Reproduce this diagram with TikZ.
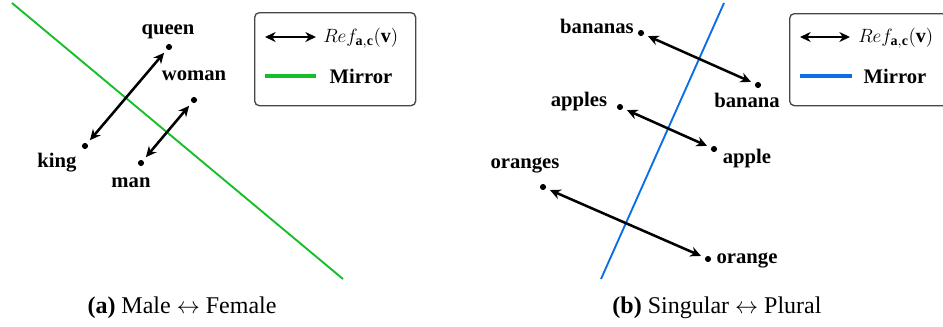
\documentclass[tikz,border=0pt]{standalone}
\usepackage{fontspec}
\setmainfont{Liberation Serif}
\usetikzlibrary{arrows.meta}
\definecolor{mirrorgreen}{RGB}{20,190,40}
\definecolor{mirrorblue}{RGB}{10,110,230}
\definecolor{legendgray}{RGB}{70,70,70}
\begin{document}
\begin{tikzpicture}[x=0.75pt,y=-0.75pt,
  dot/.style={circle,fill=black,inner sep=0pt,minimum size=4.6pt},
  word/.style={font=\fontsize{15.5}{18}\selectfont\bfseries,inner sep=0pt,anchor=base},
  refl/.style={line width=1.9pt,{Stealth[length=8pt,width=7.5pt]}-{Stealth[length=8pt,width=7.5pt]},shorten <=3.2pt,shorten >=3.2pt},
  mirrorline/.style={line width=1.4pt},
  legbox/.style={draw=legendgray,line width=1pt,rounded corners=3.5pt,fill=white,anchor=north west,inner sep=0pt},
  legline/.style={line width=2.6pt},
  legarrow/.style={line width=1.9pt,{Stealth[length=8pt,width=7.5pt]}-{Stealth[length=8pt,width=7.5pt]}},
  mathlbl/.style={font=\fontsize{15}{18}\selectfont,inner sep=0pt,anchor=west},
  subcap/.style={font=\fontsize{18}{21}\selectfont,inner sep=0pt,anchor=base}
]
\clip (0,0) rectangle (943,326);

% ---------- panel (a) ----------
\coordinate (ga) at (12,3);
\coordinate (gb) at (343,279);
\draw[mirrorline,mirrorgreen] (ga) -- (gb);

\node[dot] (queen) at (169,47) {};
\node[dot] (woman) at (194,100) {};
\node[dot] (king) at (85,146) {};
\node[dot] (man) at (141,163) {};
\node[word] (lqueen) at (168,34) {queen};
\node[word] (lwoman) at (194,80) {woman};
\node[word] (lking) at (57,167) {king};
\node[word] (lman) at (131,187) {man};
\draw[refl] (king) -- (queen);
\draw[refl] (man) -- (woman);

\node[legbox,minimum width=120.75pt,minimum height=69.75pt] (lega) at (254,12) {};
\coordinate (la1) at (265,37);
\coordinate (la2) at (316,37);
\draw[legarrow] (la1) -- (la2);
\node[mathlbl] (lrefa) at (323,38) {$Ref_{\mathbf{a,c}}(\mathbf{v})$};
\coordinate (lg1) at (265,76);
\coordinate (lg2) at (316,76);
\draw[legline,mirrorgreen] (lg1) -- (lg2);
\node[word] (lmira) at (361,83) {Mirror};

\node[subcap] (capa) at (182,313) {\textbf{(a)} Male $\leftrightarrow$ Female};

% ---------- panel (b) ----------
\coordinate (ba) at (724,3);
\coordinate (bb) at (601,279);
\draw[mirrorline,mirrorblue] (ba) -- (bb);

\node[dot] (bananas) at (641,33) {};
\node[dot] (banana) at (758,85) {};
\node[dot] (apples) at (620,107) {};
\node[dot] (apple) at (714,149) {};
\node[dot] (oranges) at (543,187) {};
\node[dot] (orange) at (708,259) {};
\node[word] (lbananas) at (597,33) {bananas};
\node[word] (lbanana) at (747,107) {banana};
\node[word] (lapples) at (579,106) {apples};
\node[word] (lapple) at (747,163) {apple};
\node[word] (loranges) at (525,168) {oranges};
\node[word] (lorange) at (747,263) {orange};
\draw[refl] (bananas) -- (banana);
\draw[refl] (apples) -- (apple);
\draw[refl] (oranges) -- (orange);

\node[legbox,minimum width=130pt,minimum height=69pt] (legb) at (789,13) {};
\coordinate (lb1) at (800,37);
\coordinate (lb2) at (850,37);
\draw[legarrow] (lb1) -- (lb2);
\node[mathlbl] (lrefb) at (858,38) {$Ref_{\mathbf{a,c}}(\mathbf{v})$};
\coordinate (lh1) at (800,76);
\coordinate (lh2) at (852,76);
\draw[legline,mirrorblue] (lh1) -- (lh2);
\node[word] (lmirb) at (895,83) {Mirror};

\node[subcap] (capb) at (717,313) {\textbf{(b)} Singular $\leftrightarrow$ Plural};
\end{tikzpicture}
\end{document}
